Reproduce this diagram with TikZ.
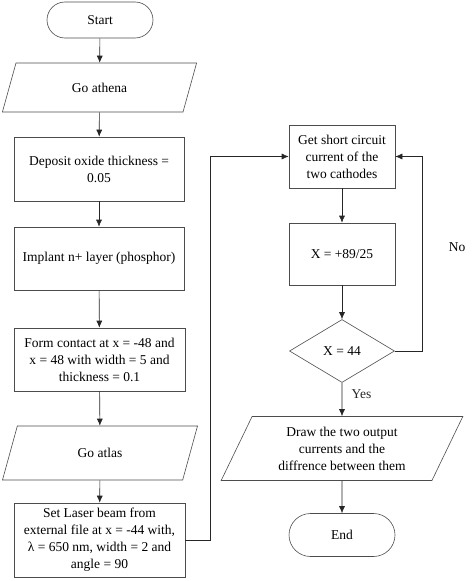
\documentclass[tikz,border=0pt]{standalone}
\usepackage{fontspec}
\setmainfont{Liberation Serif}
\usetikzlibrary{shapes.geometric,shapes.misc,arrows.meta}
\tikzset{
  chart/.style={
    draw=black!70,
    align=center,
    inner sep=1pt,
    font=\fontsize{13.5}{17}\selectfont,
  },
  process/.style={
    chart,
    rectangle,
    minimum width=#1,
    minimum height=63,
  },
  process/.default=170,
  terminal/.style={
    chart,
    rounded rectangle,
    minimum width=108,
    minimum height=#1,
  },
  terminal/.default=36,
  inout/.style={
    chart,
    trapezium,
    trapezium left angle=#1,
    trapezium right angle=180-#1,
    trapezium stretches=true,
  },
  inout/.default=68,
  decision/.style={
    chart,
    diamond,
    minimum width=105,
    minimum height=63,
    inner sep=0pt,
  },
  flow/.style={-{Latex[length=7pt,width=6pt]}, black!85, semithick},
}

\begin{document}
\begin{tikzpicture}[x=1pt, y=-1pt, semithick]
\useasboundingbox (0,0) rectangle (474,581);
% left column
\node[terminal] (start) at (100,20) {Start};
\node[inout, minimum width=195, minimum height=49] (athena) at (99.5,87.5) {Go athena};
\node[process, minimum height=64] (oxide) at (99,169) {Deposit oxide thickness =\\0.05};
\node[process] (implant) at (99,258.5) {Implant n+ layer (phosphor)};
\node[process=171] (contact) at (99.5,359.5) {Form contact at x = -48 and\\x = 48 with width = 5 and\\thickness = 0.1};
\node[inout=70, minimum width=196, minimum height=54] (atlas) at (100,453) {Go atlas};
\node[process=171, minimum height=74] (laser) at (99.5,540) {Set Laser beam from\\external file at x = -44 with,\\λ = 650 nm, width = 2 and\\angle = 90};
% right column
\node[process=106] (short) at (342,156.5) {Get short circuit\\current of the\\two cathodes};
\node[process=106, minimum height=62] (xstep) at (342,254) {X = +89/25};
\node[decision] (check) at (342,351) {X = 44};
\node[inout=64, minimum width=242, minimum height=64] (plot) at (342,448.5) {Draw the two output\\currents and the\\diffrence between them};
\node[terminal=43] (stop) at (342,535) {End};
\node[font=\fontsize{13.5}{17}\selectfont] (no) at (457,247) {No};

\draw[flow] (start) -- (athena);
\draw[flow] (athena) -- (oxide);
\draw[flow] (oxide) -- (implant);
\draw[flow] (implant) -- (contact);
\draw[flow] (contact) -- (atlas);
\draw[flow] (atlas) -- (laser);
\draw[flow] (laser.east) -- ++(25,0) |- (short.west);
\draw[flow] (short) -- (xstep);
\draw[flow] (xstep) -- (check);
\draw[flow] (check.east) -- ++(27,0) |- (short.east);
\draw[flow] (check) -- node[pos=0.35, right=6pt, font=\fontsize{13.5}{17}\selectfont] {Yes} (plot);
\draw[flow] (plot) -- (stop);
\end{tikzpicture}
\end{document}
